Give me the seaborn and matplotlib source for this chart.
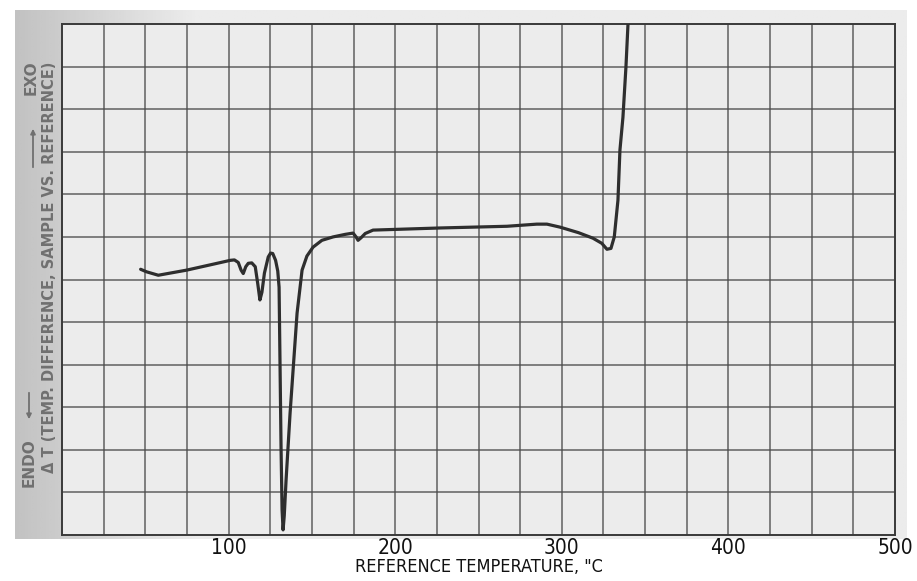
"""Recreate a scanned DTA thermogram (delta T vs reference temperature)."""

import numpy as np
import pandas as pd
import matplotlib
matplotlib.use('Agg')
import matplotlib.pyplot as plt
import seaborn as sns
from matplotlib import font_manager
from matplotlib.patches import FancyArrowPatch

# curve: reference temperature (C) and delta T (grid cells from bottom)
temperature = [47.2, 50.8, 57.8, 74.8, 90.8, 101.0, 103.5, 105.8, 107.5, 108.8,
               110.3, 111.8, 113.9, 116.0, 117.5, 118.8, 120.0, 121.5, 123.8, 125.2,
               126.5, 128.2, 129.5, 130.3, 131.5, 132.1, 132.7, 133.4, 134.5, 136.9,
               141.1, 144.1, 147.0, 150.7, 156.0, 162.7, 170.0, 174.7, 176.5, 177.7,
               179.5, 182.0, 186.7, 226.9, 267.1, 285.0, 291.1, 298.9, 310.0, 318.7,
               324.0, 327.1, 329.5, 331.5, 333.7, 334.9, 336.7, 338.5, 339.7, 340.3]
delta_t = [6.24, 6.18, 6.10, 6.22, 6.36, 6.45, 6.46, 6.40, 6.22, 6.14,
           6.30, 6.38, 6.39, 6.30, 5.90, 5.52, 5.70, 6.15, 6.53, 6.62,
           6.61, 6.45, 6.20, 5.82, 2.00, 0.59, 0.12, 0.45, 1.29, 2.86,
           5.21, 6.22, 6.55, 6.76, 6.92, 7.00, 7.06, 7.09, 7.00, 6.92,
           6.98, 7.08, 7.16, 7.21, 7.25, 7.30, 7.30, 7.23, 7.10, 6.97,
           6.85, 6.71, 6.73, 7.00, 7.86, 9.04, 9.81, 10.99, 11.97, 12.40]

x_ticks = [100, 200, 300, 400, 500]
x_label = 'REFERENCE TEMPERATURE, "C'
y_label = "\u0394 T (TEMP. DIFFERENCE, SAMPLE VS. REFERENCE)"

sns.set_theme(style="white")


def pick_narrow_font():
    """Find a condensed sans font file, fall back to Liberation Sans."""
    files = [f.fname for f in font_manager.fontManager.ttflist]
    for key in ["LiberationSansNarrow-Regular", "DejaVuSansCondensed.ttf",
                "Narrow-Regular", "Condensed-Regular", "Condensed.ttf"]:
        for path in files:
            if key in path:
                return path
    return None


narrow_path = pick_narrow_font()


def narrow_font(size):
    if narrow_path:
        return font_manager.FontProperties(fname=narrow_path, size=size)
    return font_manager.FontProperties(family="Liberation Sans", size=size)


fig = plt.figure(figsize=(9.17, 5.81), dpi=100)
fig.patch.set_facecolor("white")

# scanned paper background with a darker left margin
bg = fig.add_axes([15 / 917, 42 / 581, 892 / 917, 529 / 581], zorder=0)
grad = np.linspace(0.76, 0.92, 60)
shade = np.concatenate([grad, np.full(240, 0.925)])
bg.imshow(np.tile(shade, (10, 1)), cmap="gray", vmin=0, vmax=1, aspect="auto",
          extent=[0, 1, 0, 1])
bg.set_axis_off()

ax = fig.add_axes([62 / 917, 46 / 581, 833 / 917, 511 / 581], zorder=1)
ax.set_facecolor("#ececec")

df = pd.DataFrame({"temperature": temperature, "delta_t": delta_t})
sns.lineplot(data=df, x="temperature", y="delta_t", sort=False, estimator=None,
             color="#2e2e2e", linewidth=2.3, ax=ax, zorder=3,
             solid_joinstyle="round", solid_capstyle="round")

ax.set_xlim(0, 500)
ax.set_ylim(0, 12)
for v in np.arange(25, 500, 25):
    ax.axvline(v, color="#4a4a4a", linewidth=1.2, alpha=0.8, zorder=1)
for h in range(1, 12):
    ax.axhline(h, color="#4a4a4a", linewidth=1.2, alpha=0.8, zorder=1)
for s in ax.spines.values():
    s.set_color("#3a3a3a")
    s.set_linewidth(1.4)

ax.set_xticks(x_ticks)
ax.set_xticklabels([str(t) for t in x_ticks], fontproperties=narrow_font(15),
                   color="#111111")
ax.tick_params(axis="x", length=0, pad=2)
ax.set_yticks([])
ax.set_xlabel(x_label, fontproperties=narrow_font(13), color="#111111", labelpad=0)
ax.set_ylabel("")

# rotated annotations on the paper margin
grey = "#707070"
fig.text(50 / 917, 1 - 267 / 581, y_label, rotation=90, ha="center", va="center",
         fontsize=10.5, color=grey, fontweight="semibold")
fig.text(29 / 917, 1 - 463 / 581, "ENDO", rotation=90, ha="center", va="center",
         fontsize=11, color=grey, fontweight="semibold")
fig.text(31 / 917, 1 - 78 / 581, "EXO", rotation=90, ha="center", va="center",
         fontsize=11, color=grey, fontweight="semibold")
fig.add_artist(FancyArrowPatch(
    (29 / 917, 1 - 390 / 581), (29 / 917, 1 - 422 / 581), transform=fig.transFigure,
    arrowstyle="-|>", mutation_scale=7, color=grey, linewidth=1.3))
fig.add_artist(FancyArrowPatch(
    (33 / 917, 1 - 170 / 581), (33 / 917, 1 - 126 / 581), transform=fig.transFigure,
    arrowstyle="-|>", mutation_scale=7, color=grey, linewidth=1.3))

plt.savefig("out.png", dpi=100)
plt.close()
